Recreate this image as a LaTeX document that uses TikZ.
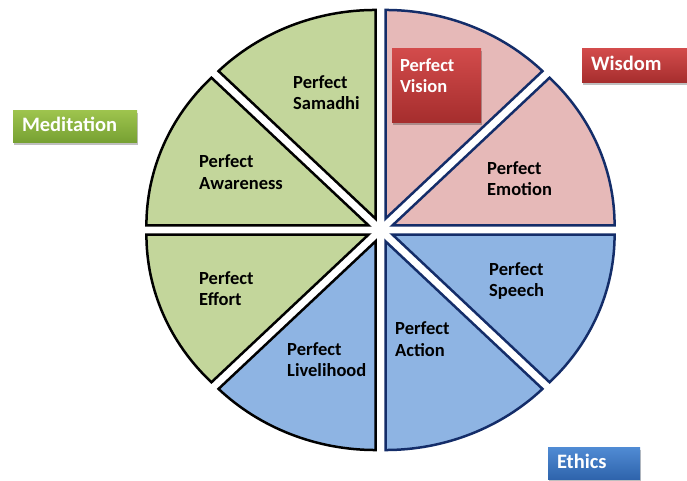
\documentclass[tikz,border=0pt]{standalone}
\usepackage{fontspec}
\setmainfont{Carlito}
\usetikzlibrary{shadows}
\definecolor{greenw}{HTML}{C3D69B}
\definecolor{pinkw}{HTML}{E6B9B8}
\definecolor{bluew}{HTML}{8EB4E3}
\definecolor{navyw}{HTML}{142D69}
\definecolor{redtop}{HTML}{D24B4B}
\definecolor{redbot}{HTML}{A52D2D}
\definecolor{grntop}{HTML}{9DC34D}
\definecolor{grnbot}{HTML}{76A032}
\definecolor{blutop}{HTML}{4F8AD3}
\definecolor{blubot}{HTML}{2E63AB}
\begin{document}
\begin{tikzpicture}[x=1pt,y=1pt,
  wedge/.style={line width=2.5pt, line join=miter},
  wlabel/.style={anchor=west, align=left, inner sep=0pt,
    font=\fontsize{18.5}{21.6}\selectfont\bfseries, text=black},
  legend/.style={anchor=center, align=left, inner xsep=9pt, inner ysep=0pt,
    font=\fontsize{20.5}{21.6}\selectfont\bfseries, text=white,
    drop shadow={shadow xshift=1pt, shadow yshift=-2pt, opacity=0.25, fill=black}}
]
\useasboundingbox (0,0) rectangle (687,481);
% wedges
\begin{scope}[shift={(380.5,251)}, yscale=0.94]
  \foreach \a/\f/\d in {0/pinkw/navyw, 45/pinkw/navyw, 90/greenw/black, 135/greenw/black,
                        180/greenw/black, 225/bluew/black, 270/bluew/navyw, 315/bluew/navyw}{
    \draw[wedge, fill=\f, draw=\d] (\a+22.5:13.07) -- ++(\a:222)
      arc[start angle=\a, end angle=\a+45, radius=222] -- cycle;
  }
\end{scope}
% wedge labels
\node[wlabel] (samadhi)    at (293,386.4) {\strut Perfect\\\strut Samadhi};
\node[wlabel] (awareness)  at (199,306.9) {\strut Perfect\\\strut Awareness};
\node[wlabel] (effort)     at (199,190.4) {\strut Perfect\\\strut Effort};
\node[wlabel] (livelihood) at (287,119.4) {\strut Perfect\\\strut Livelihood};
\node[wlabel] (action)     at (395,139.9) {\strut Perfect\\\strut Action};
\node[wlabel] (speech)     at (489,199.4) {\strut Perfect\\\strut Speech};
\node[wlabel] (emotion)    at (487,300.4) {\strut Perfect\\\strut Emotion};
% vision box
\node[legend, font=\fontsize{18.5}{21.6}\selectfont\bfseries, inner xsep=8pt,
      minimum width=89pt, minimum height=74pt, text width=73pt,
      top color=redtop, bottom color=redbot] (vision) at (436.5,395)
      {\strut Perfect\\\strut Vision\rule[-23pt]{0pt}{0pt}};
% legends
\node[legend, minimum width=108pt, minimum height=34pt, text width=90pt,
      top color=redtop, bottom color=redbot] (wisdom) at (636,415) {\strut Wisdom};
\node[legend, minimum width=124pt, minimum height=32pt, text width=106pt,
      top color=grntop, bottom color=grnbot] (meditation) at (75,354) {\strut Meditation};
\node[legend, minimum width=92pt, minimum height=32pt, text width=74pt,
      top color=blutop, bottom color=blubot] (ethics) at (594,17) {\strut Ethics};
\end{tikzpicture}
\end{document}
